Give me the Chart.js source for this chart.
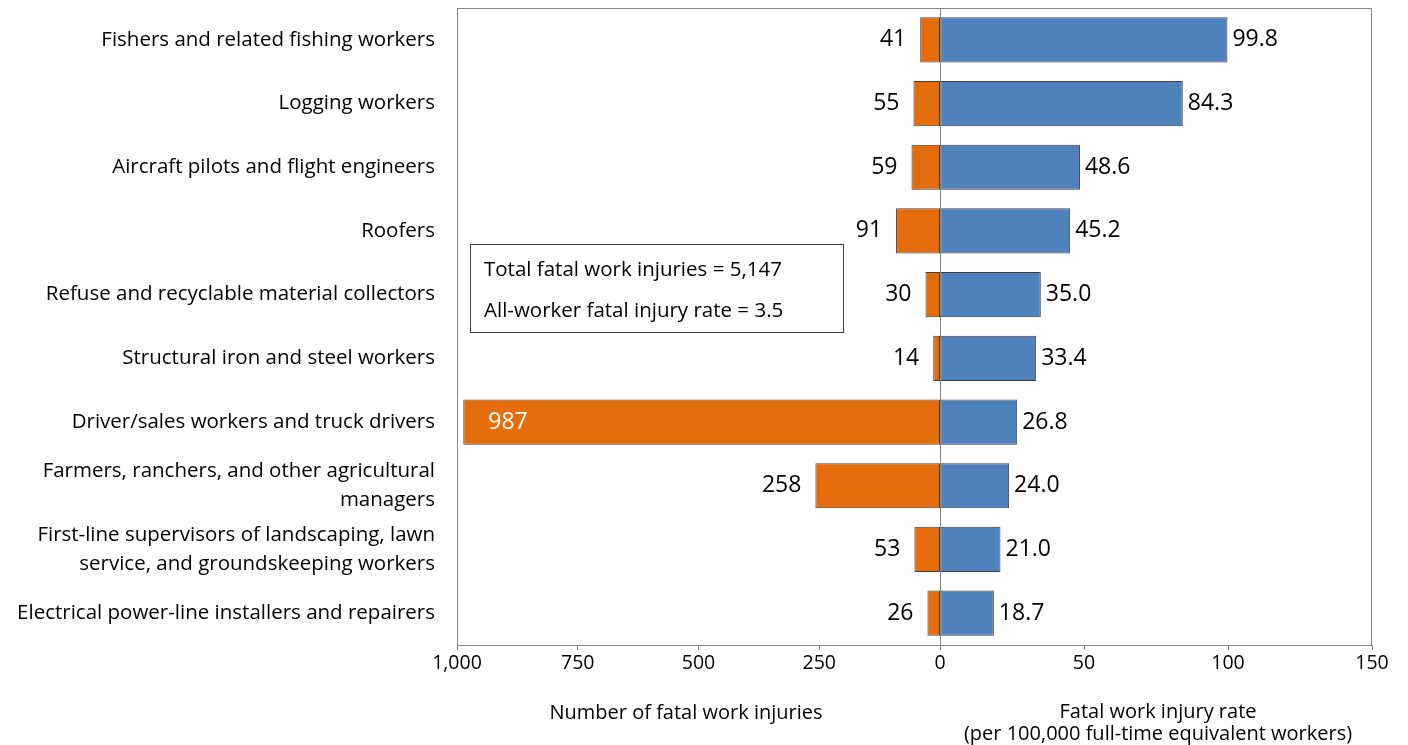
<!DOCTYPE html>
<html>
<head>
<meta charset="utf-8">
<script src="https://cdn.jsdelivr.net/npm/chart.js@4/dist/chart.umd.min.js"></script>
<style>
  html, body { margin: 0; padding: 0; background: #fff; }
  #wrap { width: 1408px; height: 745px; position: relative; }
</style>
</head>
<body>
<div id="wrap"><canvas id="chart"></canvas></div>
<script>
// occupations, fatal counts and fatal rates (per 100,000 FTE)
const occupations = [
  "Fishers and related fishing workers",
  "Logging workers",
  "Aircraft pilots and flight engineers",
  "Roofers",
  "Refuse and recyclable material collectors",
  "Structural iron and steel workers",
  "Driver/sales workers and truck drivers",
  ["Farmers, ranchers, and other agricultural", "managers"],
  ["First-line supervisors of landscaping, lawn", "service, and groundskeeping workers"],
  "Electrical power-line installers and repairers",
];
const fatalCounts = [41, 55, 59, 91, 30, 14, 987, 258, 53, 26];
const fatalRates = [99.8, 84.3, 48.6, 45.2, 35.0, 33.4, 26.8, 24.0, 21.0, 18.7];
const countTicks = [1000, 750, 500, 250];
const rateTicks = [0, 50, 100, 150];
const noteLines = ["Total fatal work injuries = 5,147", "All-worker fatal injury rate = 3.5"];

const FONT = "'Open Sans', sans-serif";
const ORANGE = "#E46C0A";
const BLUE = "#4F81BD";

// left half (counts 0..1000) is 483px wide, right half (rate 0..150) is 432px
const LEFT_PX = 483, RIGHT_PX = 432;
const countMin = -1000 * RIGHT_PX / LEFT_PX;
const rateMin = -150 * LEFT_PX / RIGHT_PX;
const k = -rateMin / 1000; // rate-units per count

const fmt = (v) => v.toLocaleString("en-US");

const overlay = {
  id: "overlay",
  afterDatasetsDraw(chart) {
    const { ctx, chartArea: a, scales } = chart;
    ctx.save();
    // frame + zero line
    ctx.strokeStyle = "#868686";
    ctx.lineWidth = 1;
    ctx.strokeRect(a.left + 0.5, a.top + 0.5, a.right - a.left - 1, a.bottom - a.top);
    const x0 = Math.round(scales.xr.getPixelForValue(0)) + 0.5;
    ctx.beginPath();
    ctx.moveTo(x0, a.top);
    ctx.lineTo(x0, a.bottom);
    ctx.stroke();

    // value labels
    ctx.font = "23px " + FONT;
    ctx.textBaseline = "middle";
    chart.getDatasetMeta(0).data.forEach((bar, i) => {
      const v = fatalCounts[i];
      if (v > 900) {
        ctx.fillStyle = "#fff";
        ctx.textAlign = "left";
        ctx.fillText(fmt(v), bar.x + 25, bar.y);
      } else {
        ctx.fillStyle = "#000";
        ctx.textAlign = "right";
        ctx.fillText(fmt(v), bar.x - 14, bar.y);
      }
    });
    ctx.fillStyle = "#000";
    ctx.textAlign = "left";
    chart.getDatasetMeta(1).data.forEach((bar, i) => {
      ctx.fillText(fatalRates[i].toFixed(1), bar.x + 5, bar.y);
    });

    // note box
    ctx.strokeStyle = "#404040";
    ctx.strokeRect(470.5, 244.5, 373, 88);
    ctx.font = "20.5px " + FONT;
    ctx.fillText(noteLines[0], 484, 270);
    ctx.fillText(noteLines[1], 484, 311);

    // axis titles
    ctx.textAlign = "center";
    ctx.font = "20px " + FONT;
    ctx.fillText("Number of fatal work injuries", 686, 713);
    ctx.fillText("Fatal work injury rate", 1158, 712);
    ctx.fillText("(per 100,000 full-time equivalent workers)", 1158, 734);
    ctx.restore();
  },
};

new Chart(document.getElementById("chart"), {
  type: "bar",
  data: {
    labels: occupations,
    datasets: [
      {
        label: "Number of fatal work injuries",
        data: fatalCounts,
        xAxisID: "xc",
        backgroundColor: ORANGE,
        borderColor: "#404040",
        borderWidth: 1,
        borderSkipped: false,
        grouped: false,
        barPercentage: 0.71,
        categoryPercentage: 1,
      },
      {
        label: "Fatal work injury rate",
        data: fatalRates,
        xAxisID: "xr",
        backgroundColor: BLUE,
        borderColor: "#404040",
        borderWidth: 1,
        borderSkipped: false,
        grouped: false,
        barPercentage: 0.71,
        categoryPercentage: 1,
      },
    ],
  },
  options: {
    indexAxis: "y",
    responsive: true,
    maintainAspectRatio: false,
    animation: false,
    layout: { padding: { top: 8, right: 36, left: 0, bottom: 0 } },
    plugins: { legend: { display: false }, tooltip: { enabled: false } },
    scales: {
      y: {
        grid: { display: false },
        border: { display: false },
        ticks: { color: "#000", font: { family: FONT, size: 20.5, lineHeight: 1.4 }, padding: 14, autoSkip: false },
        afterFit: (s) => { s.width = 457; s.paddingTop = 0; s.paddingBottom = 0; },
      },
      xc: {
        type: "linear",
        display: false,
        reverse: true,
        min: countMin,
        max: 1000,
      },
      xr: {
        type: "linear",
        position: "bottom",
        min: rateMin,
        max: 150,
        grid: { drawOnChartArea: false, drawTicks: true, tickLength: 5, color: "#868686" },
        border: { display: true, color: "#868686" },
        afterBuildTicks: (s) => {
          s.ticks = countTicks.map((v) => ({ value: -v * k })).concat(rateTicks.map((v) => ({ value: v })));
        },
        ticks: {
          color: "#000",
          font: { family: FONT, size: 19.5 },
          padding: 2,
          maxRotation: 0,
          callback: (v) => (v < 0 ? fmt(Math.round(-v / k)) : fmt(v)),
        },
        afterFit: (s) => { s.height = 100; s.paddingLeft = 0; s.paddingRight = 0; },
      },
    },
  },
  plugins: [overlay],
});
</script>
</body>
</html>
